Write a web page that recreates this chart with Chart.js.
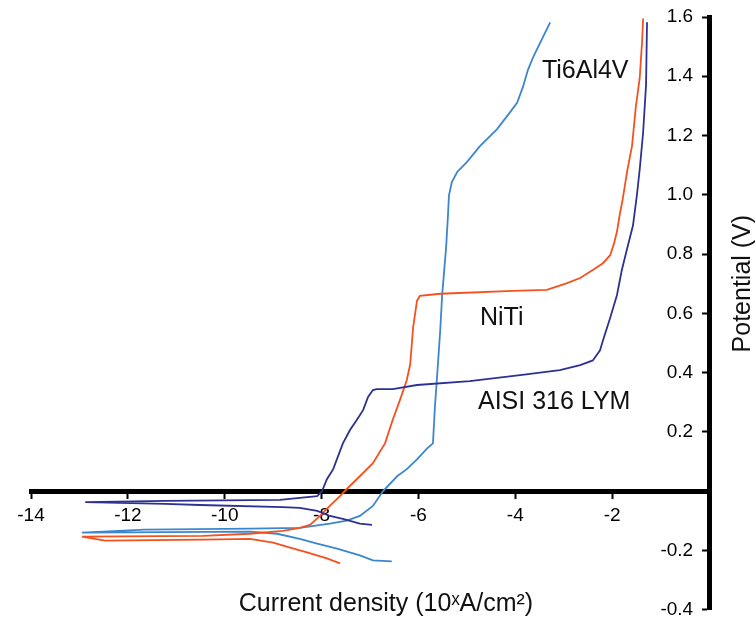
<!DOCTYPE html>
<html>
<head>
<meta charset="utf-8">
<title>Polarization curves</title>
<script src="https://cdn.jsdelivr.net/npm/chart.js@4.4.0/dist/chart.umd.min.js"></script>
<style>
  html, body { margin: 0; padding: 0; background: #fff; }
  #wrap { width: 756px; height: 625px; }
</style>
</head>
<body>
<div id="wrap"><canvas id="chart" width="756" height="625"></canvas></div>
<script>
(function () {
  "use strict";

  // log current density (x) and potential in V (y), in drawing order
  const tiX = [-6.55, -6.94, -7.21, -7.68, -8.09, -8.45, -8.92, -9.48, -12.95, -11.65, -9.48, -8.45, -7.83, -7.48,
    -7.21, -6.94, -6.73, -6.44, -6.24, -6.03, -5.82, -5.70, -5.66, -5.62, -5.55, -5.51, -5.43, -5.39, -5.37,
    -5.31, -5.20, -5.00, -4.73, -4.38, -4.11, -3.96, -3.84, -3.74, -3.63, -3.49, -3.28];
  const tiY = [-0.237, -0.234, -0.217, -0.194, -0.177, -0.161, -0.144, -0.137, -0.140, -0.130, -0.127, -0.124,
    -0.110, -0.100, -0.084, -0.050, 0.000, 0.050, 0.074, 0.107, 0.144, 0.161, 0.284, 0.375, 0.542, 0.662,
    0.819, 0.930, 0.997, 1.043, 1.077, 1.110, 1.164, 1.221, 1.278, 1.311, 1.365, 1.421, 1.465, 1.512, 1.582];

  const nitiX = [-7.62, -7.89, -8.30, -8.65, -9.00, -9.48, -10.45, -12.47, -12.95, -10.45, -9.48, -8.80, -8.45,
    -8.24, -8.03, -7.83, -7.62, -7.48, -7.21, -6.94, -6.69, -6.53, -6.38, -6.24, -6.17, -6.11, -6.03, -5.97,
    -5.55, -4.05, -3.35, -2.93, -2.66, -2.40, -2.19, -2.04, -1.96, -1.90, -1.84, -1.78, -1.69, -1.59, -1.51,
    -1.43, -1.38, -1.36];
  const nitiY = [-0.244, -0.227, -0.207, -0.191, -0.174, -0.161, -0.164, -0.167, -0.154, -0.151, -0.144, -0.134,
    -0.124, -0.114, -0.084, -0.050, -0.017, 0.007, 0.050, 0.094, 0.161, 0.241, 0.308, 0.375, 0.428, 0.552,
    0.642, 0.659, 0.666, 0.676, 0.679, 0.702, 0.719, 0.746, 0.769, 0.796, 0.836, 0.876, 0.936, 0.987, 1.080,
    1.164, 1.298, 1.395, 1.522, 1.595];

  const aisiX = [-6.96, -7.21, -7.56, -7.83, -8.09, -8.45, -8.80, -10.51, -11.23, -12.88, -11.23, -8.86, -8.45,
    -8.09, -7.99, -7.89, -7.76, -7.56, -7.41, -7.27, -7.14, -7.04, -6.94, -6.86, -6.53, -6.03, -4.94, -3.90,
    -3.08, -2.66, -2.40, -2.25, -2.19, -2.04, -1.90, -1.80, -1.69, -1.57, -1.49, -1.43, -1.36, -1.30, -1.28];
  const aisiY = [-0.114, -0.110, -0.094, -0.084, -0.067, -0.057, -0.054, -0.047, -0.043, -0.037, -0.033, -0.030,
    -0.023, -0.017, 0.000, 0.040, 0.074, 0.161, 0.207, 0.241, 0.274, 0.318, 0.341, 0.344, 0.344, 0.358, 0.371,
    0.391, 0.408, 0.425, 0.441, 0.475, 0.508, 0.585, 0.662, 0.746, 0.819, 0.896, 0.997, 1.087, 1.211, 1.371,
    1.582];

  const xTickValues = [-14, -12, -10, -8, -6, -4, -2, 0];
  const yTickValues = [-0.4, -0.2, 0, 0.2, 0.4, 0.6, 0.8, 1.0, 1.2, 1.4, 1.6];

  const labelText = ["Ti6Al4V", "NiTi", "AISI 316 LYM"];
  const labelX = [-3.45, -4.73, -4.77];
  const labelY = [1.395, 0.562, 0.278];

  const xTitle = "Current density (10\u02E3A/cm\u00B2)";
  const yTitle = "Potential (V)";

  const FONT = '"Liberation Sans", Arial, sans-serif';
  const Y_LABEL_GAP = "   "; // y labels sit at the axis line, push them left

  function points(xs, ys) {
    return xs.map(function (x, i) { return { x: x, y: ys[i] }; });
  }

  function series(label, xs, ys, color) {
    return {
      label: label,
      data: points(xs, ys),
      showLine: true,
      borderColor: color,
      backgroundColor: color,
      borderWidth: 1.8,
      pointRadius: 0,
      tension: 0
    };
  }

  const annotations = {
    id: "annotations",
    afterDatasetsDraw(chart) {
      const ctx = chart.ctx;
      const xs = chart.scales.x, ys = chart.scales.y;
      ctx.save();
      ctx.fillStyle = "#111";
      ctx.font = "25px " + FONT;
      ctx.textAlign = "left";
      ctx.textBaseline = "alphabetic";
      labelText.forEach(function (t, i) {
        ctx.fillText(t, xs.getPixelForValue(labelX[i]), ys.getPixelForValue(labelY[i]));
      });

      ctx.textAlign = "center";
      ctx.fillText(xTitle, xs.getPixelForValue(-6.67), chart.height - 14);

      ctx.translate(chart.width - 13, ys.getPixelForValue(0.7));
      ctx.rotate(-Math.PI / 2);
      ctx.textBaseline = "middle";
      ctx.fillText(yTitle, 0, 0);
      ctx.restore();
    }
  };

  const el = document.getElementById("chart");
  new Chart(el, {
    type: "scatter",
    data: {
      datasets: [
        series("AISI 316 LYM", aisiX, aisiY, "#2e3192"),
        series("NiTi", nitiX, nitiY, "#f4511e"),
        series("Ti6Al4V", tiX, tiY, "#3b86cf")
      ]
    },
    options: {
      responsive: false,
      animation: false,
      layout: { padding: { left: 31, right: 47, top: 17, bottom: 10 } },
      plugins: {
        legend: { display: false },
        tooltip: { enabled: false }
      },
      scales: {
        x: {
          type: "linear",
          position: { y: 0 },
          min: -14,
          max: 0,
          afterBuildTicks: function (scale) {
            scale.ticks = xTickValues.map(function (v) { return { value: v }; });
          },
          border: { display: true, width: 5, color: "#000" },
          grid: { drawOnChartArea: false, drawTicks: true, tickLength: 5, tickWidth: 2, color: "#000" },
          ticks: {
            padding: 8,
            color: "#000",
            font: { family: FONT, size: 19 },
            callback: function (v) { return v === 0 ? "" : String(v); }
          }
        },
        y: {
          type: "linear",
          position: { x: 0 },
          min: -0.4,
          max: 1.6,
          afterBuildTicks: function (scale) {
            scale.ticks = yTickValues.map(function (v) { return { value: v }; });
          },
          border: { display: true, width: 5, color: "#000" },
          grid: { drawOnChartArea: false, drawTicks: true, tickLength: 5, tickWidth: 2, color: "#000" },
          ticks: {
            padding: 4,
            color: "#000",
            font: { family: FONT, size: 19 },
            callback: function (v) {
              return Math.abs(v) < 1e-9 ? "" : v.toFixed(1) + Y_LABEL_GAP;
            }
          }
        }
      }
    },
    plugins: [annotations]
  });
})();
</script>
</body>
</html>
